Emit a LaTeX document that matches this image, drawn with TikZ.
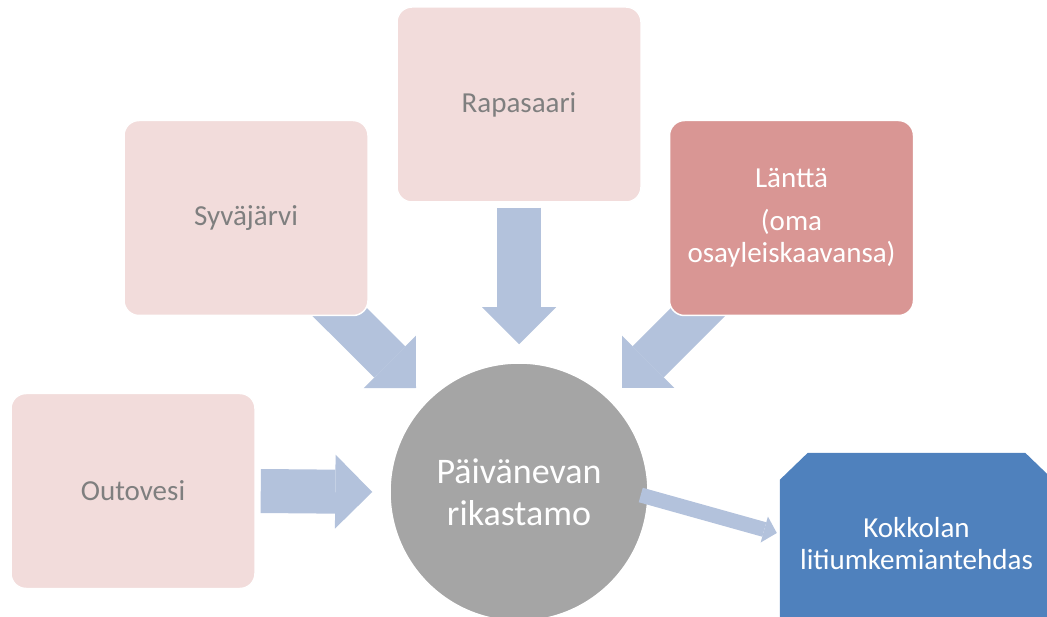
\documentclass[tikz,border=0pt]{standalone}
\usepackage{fontspec}
\setmainfont{Carlito}
\usetikzlibrary{shapes, calc, arrows.meta, backgrounds}
\definecolor{paleRed}{HTML}{F2DCDB}
\definecolor{midRed}{HTML}{D99694}
\definecolor{hubGray}{HTML}{A5A5A5}
\definecolor{flowBlue}{HTML}{B3C2DC}
\definecolor{plantBlue}{HTML}{4F81BD}
\definecolor{labelGray}{HTML}{7F7F7F}

\tikzset{
  site/.style={draw=white, line width=1.5pt, fill=paleRed, rounded corners=15pt, minimum width=244pt, minimum height=195pt, align=center, text=labelGray, font=\fontsize{29}{32}\selectfont},
  bigflow/.style={flowBlue, line width=44pt, -{Triangle[length=37pt, width=74pt, line width=0pt]}},
  thinflow/.style={flowBlue, line width=15pt, -{Triangle[length=13pt, width=27pt, line width=0pt]}}
}

\begin{document}
\begin{tikzpicture}[x=1pt, y=-1pt]
\useasboundingbox (0,0) rectangle (1047,617);
\clip (0,0) rectangle (1047,617);

\node[site] (rapa) at (519,104.5) {Rapasaari};
\node[site] (syv) at (246,218) {Syväjärvi};
\node[site, fill=midRed, text=white] (lan) at (791.5,218) {Länttä\\[11pt](oma\\osayleiskaavansa)};
\node[site] (out) at (133,491) {Outovesi};

\node[circle, draw=white, line width=1.5pt, fill=hubGray, minimum size=258pt, align=center, text=white, font=\fontsize{36}{42}\selectfont] (hub) at (519,492) {Päivänevan\\rikastamo};
\node[minimum width=273pt, minimum height=182pt, align=center, text=white, font=\fontsize{29}{32}\selectfont] (plant) at (916.5,544) {Kokkolan\\litiumkemiantehdas};

\begin{scope}[on background layer]
\draw[bigflow] ($(rapa.south)+(0,5)$) -- ($(hub.north)+(0,-18)$);
\draw[bigflow] ($(syv.south east)+(-45,-20)$) -- ($(hub.center)+(-103,-104)$);
\draw[bigflow] ($(lan.south west)+(45,-20)$) -- ($(hub.center)+(103,-104)$);
\draw[bigflow] ($(out.east)+(5,0)$) -- ($(hub.west)+(-17,0)$);
\fill[plantBlue] ($(plant.north west)+(0,27)$) -- ($(plant.north west)+(28,0)$) -- ($(plant.north east)+(-28,0)$) -- ($(plant.north east)+(0,27)$) -- (plant.south east) -- (plant.south west) -- cycle;
\end{scope}

\draw[thinflow] ($(hub.east)+(-8,3)$) -- ($(plant.west)+(-3,-11)$);
\end{tikzpicture}
\end{document}
